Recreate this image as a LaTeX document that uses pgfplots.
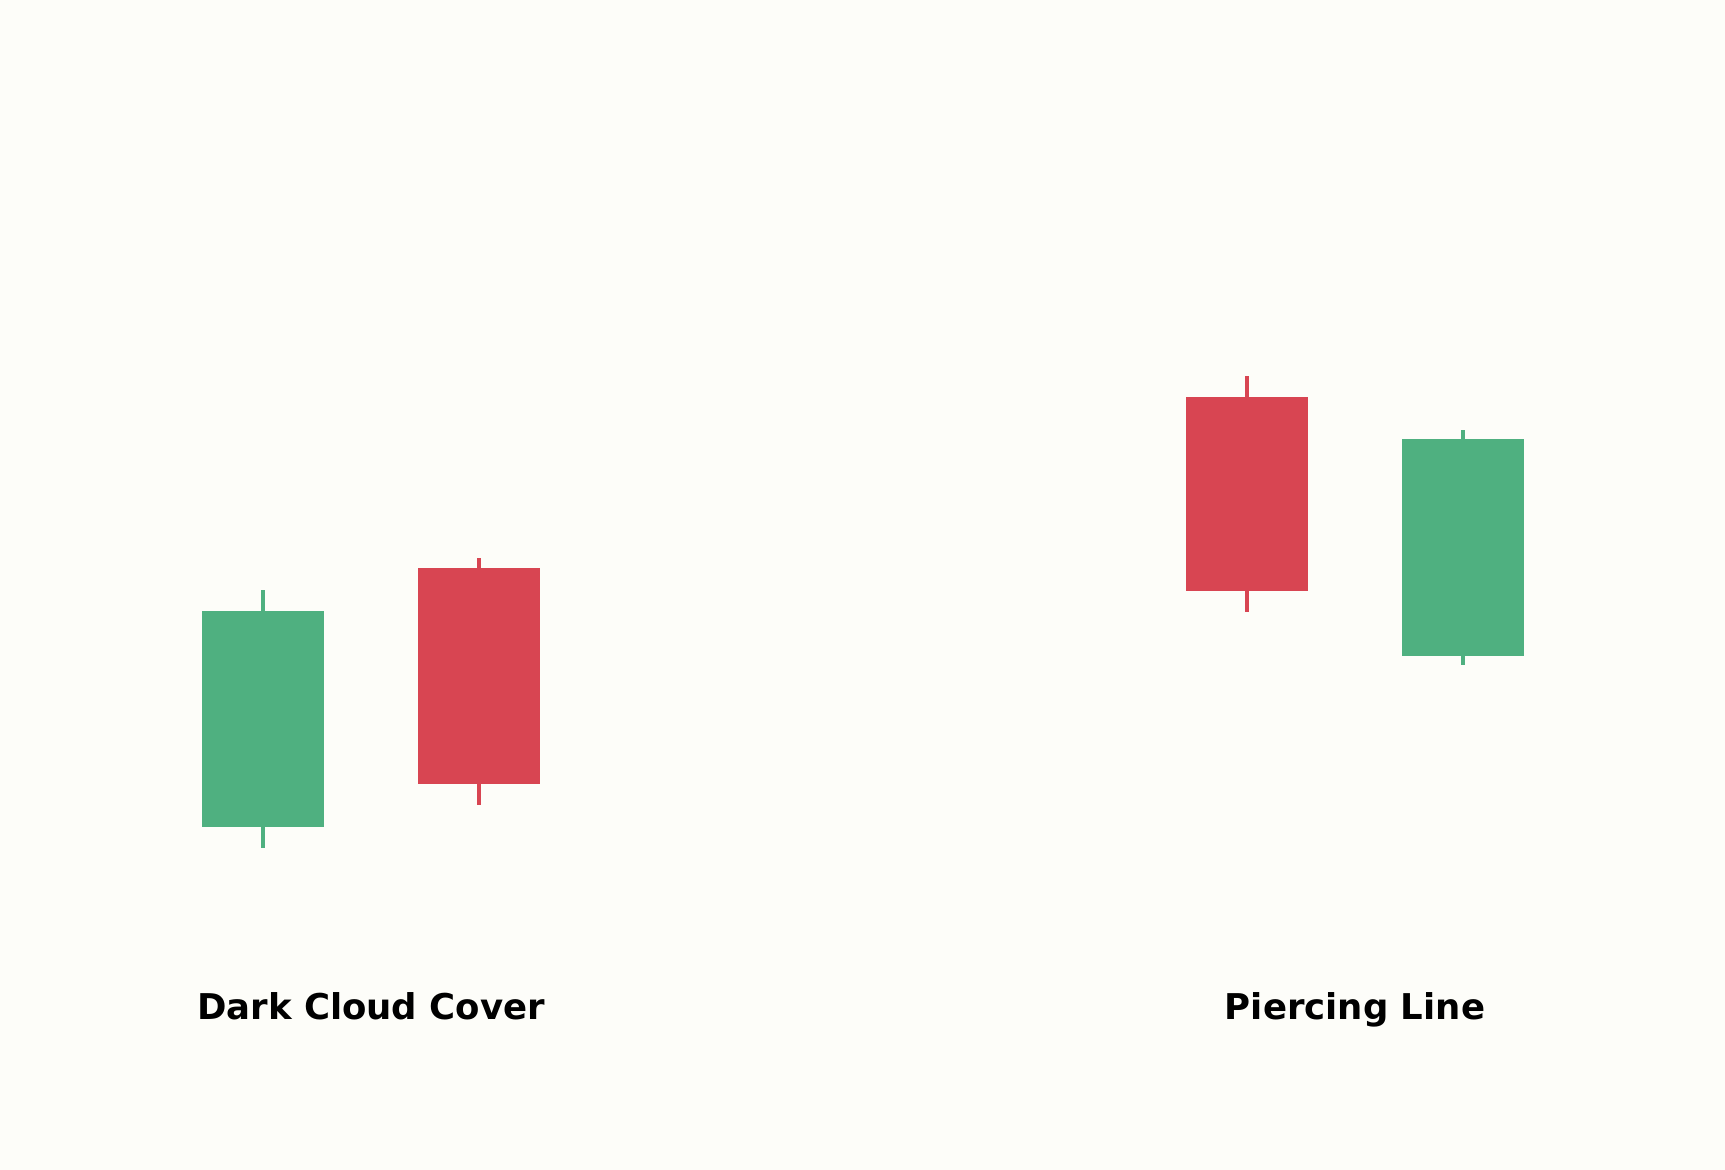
\documentclass[border=0pt]{standalone}
\usepackage{fontspec}
\setmainfont{DejaVu Sans}
\usepackage{xcolor}
\usepackage{pgfplots}
\pgfplotsset{compat=1.18}

\definecolor{bgpaper}{RGB}{253,253,249}
\definecolor{candleup}{RGB}{79,176,128}
\definecolor{candledown}{RGB}{216,69,82}

\begin{document}
\begin{tikzpicture}
\begin{axis}[
    scale only axis,
    width=17.25cm,
    height=11.7cm,
    xmin=0, xmax=1725,
    ymin=0, ymax=1170,
    hide axis,
]
\fill[bgpaper] (rel axis cs:0,0) rectangle (rel axis cs:1,1);

% Dark Cloud Cover: bullish then bearish
\addplot[candleup, line width=0.04cm] coordinates {(263,322) (263,580)};
\addplot[candleup, line width=1.22cm] coordinates {(263,343) (263,559)};
\addplot[candledown, line width=0.04cm] coordinates {(479,365) (479,612)};
\addplot[candledown, line width=1.22cm] coordinates {(479,386) (479,602)};

% Piercing Line: bearish then bullish
\addplot[candledown, line width=0.04cm] coordinates {(1247,558) (1247,794)};
\addplot[candledown, line width=1.22cm] coordinates {(1247,579) (1247,773)};
\addplot[candleup, line width=0.04cm] coordinates {(1463,505) (1463,740)};
\addplot[candleup, line width=1.22cm] coordinates {(1463,514) (1463,731)};

\node[anchor=base, font=\fontsize{10.1}{12}\selectfont\bfseries] at (axis cs:371,150) {Dark Cloud Cover};
\node[anchor=base, font=\fontsize{10.1}{12}\selectfont\bfseries] at (axis cs:1355,150) {Piercing Line};
\end{axis}
\end{tikzpicture}
\end{document}
